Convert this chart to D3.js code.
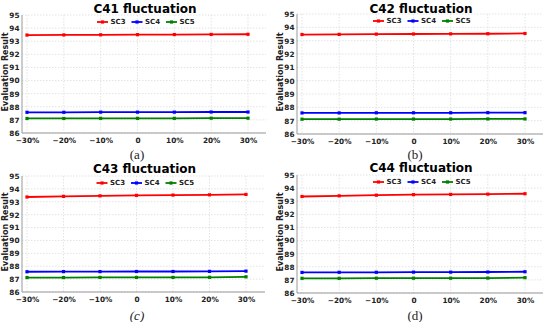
<!DOCTYPE html>
<html>
<head>
<meta charset="utf-8">
<script src="https://cdn.jsdelivr.net/npm/d3@7"></script>
<style>
  body { margin: 0; background: #fff; }
  svg { display: block; }
</style>
</head>
<body>
<div id="chart"></div>
<script>
// Sensitivity of evaluation result to +/-30% fluctuation of C41..C44

const xValues = [-30, -20, -10, 0, 10, 20, 30];
const xTickLabels = ['\u221230%', '\u221220%', '\u221210%', '0', '10%', '20%', '30%'];
const yTicks = [86, 87, 88, 89, 90, 91, 92, 93, 94, 95];
const seriesNames = ['SC3', 'SC4', 'SC5'];
const seriesColors = ['#ff0000', '#0000ff', '#008000'];

const c41SC3 = [93.47, 93.48, 93.49, 93.50, 93.51, 93.52, 93.53];
const c41SC4 = [87.58, 87.58, 87.59, 87.59, 87.59, 87.60, 87.60];
const c41SC5 = [87.11, 87.11, 87.12, 87.12, 87.12, 87.13, 87.13];

const c42SC3 = [93.46, 93.47, 93.49, 93.50, 93.51, 93.52, 93.54];
const c42SC4 = [87.58, 87.58, 87.59, 87.59, 87.59, 87.60, 87.60];
const c42SC5 = [87.11, 87.11, 87.12, 87.12, 87.12, 87.13, 87.13];

const c43SC3 = [93.37, 93.42, 93.46, 93.50, 93.52, 93.54, 93.57];
const c43SC4 = [87.57, 87.58, 87.58, 87.59, 87.59, 87.60, 87.62];
const c43SC5 = [87.12, 87.12, 87.13, 87.13, 87.13, 87.14, 87.18];

const c44SC3 = [93.36, 93.41, 93.46, 93.50, 93.52, 93.54, 93.57];
const c44SC4 = [87.57, 87.58, 87.58, 87.59, 87.59, 87.60, 87.62];
const c44SC5 = [87.12, 87.12, 87.13, 87.13, 87.13, 87.14, 87.17];

const titles = ['C41 fluctuation', 'C42 fluctuation', 'C43 fluctuation', 'C44 fluctuation'];
const captions = ['(a)', '(b)', '(c)', '(d)'];

// layout of each panel in page pixels
const PANELS = [
  { spine: 22, first: 27, last: 248, right: 266, top: 15, bottom: 133, titleY: 9, capX: 137, capY: 154, italic: false },
  { spine: 297, first: 302, last: 525, right: 543, top: 14, bottom: 134, titleY: 9, capX: 415, capY: 154, italic: false },
  { spine: 22, first: 27, last: 246, right: 265, top: 176, bottom: 292, titleY: 169, capX: 137, capY: 315, italic: true },
  { spine: 297, first: 302, last: 525, right: 543, top: 175, bottom: 293, titleY: 168, capX: 415, capY: 315, italic: false },
];

const panelData = [
  [c41SC3, c41SC4, c41SC5],
  [c42SC3, c42SC4, c42SC5],
  [c43SC3, c43SC4, c43SC5],
  [c44SC3, c44SC4, c44SC5],
];

const svg = d3.select('#chart')
  .append('svg')
  .attr('width', 550)
  .attr('height', 322);

function drawPanel(i) {
  const p = PANELS[i];
  const g = svg.append('g');

  const x = d3.scaleLinear().domain([-30, 30]).range([p.first, p.last]);
  const y = d3.scaleLinear().domain([86, 95]).range([p.bottom, p.top]);

  // grid
  g.selectAll('.hgrid')
    .data(yTicks)
    .join('line')
    .attr('x1', p.spine).attr('x2', p.right)
    .attr('y1', d => y(d)).attr('y2', d => y(d))
    .attr('stroke', '#dcdcdc')
    .attr('stroke-width', 0.8)
    .attr('stroke-dasharray', '1.5,1.5');

  g.selectAll('.vgrid')
    .data(xValues)
    .join('line')
    .attr('x1', d => x(d)).attr('x2', d => x(d))
    .attr('y1', p.top).attr('y2', p.bottom)
    .attr('stroke', '#dcdcdc')
    .attr('stroke-width', 0.8)
    .attr('stroke-dasharray', '1.5,1.5');

  // axes
  const yAxis = d3.axisLeft(y).tickValues(yTicks).tickSize(0).tickPadding(2.5);
  const xAxis = d3.axisBottom(x).tickValues(xValues).tickSize(0).tickPadding(5)
    .tickFormat((d, k) => xTickLabels[k]);

  const ya = g.append('g').attr('transform', `translate(${p.spine},0)`).call(yAxis);
  ya.select('.domain').remove();
  const xa = g.append('g').attr('transform', `translate(0,${p.bottom})`).call(xAxis);
  xa.select('.domain').remove();

  g.selectAll('.tick text')
    .attr('font-family', 'DejaVu Sans')
    .attr('font-weight', 'bold')
    .attr('font-size', 7.3)
    .attr('fill', '#222');

  // spines
  g.append('line')
    .attr('x1', p.spine).attr('x2', p.spine)
    .attr('y1', p.top).attr('y2', p.bottom)
    .attr('stroke', '#999').attr('stroke-width', 1);
  g.append('line')
    .attr('x1', p.spine).attr('x2', p.right)
    .attr('y1', p.bottom).attr('y2', p.bottom)
    .attr('stroke', '#999').attr('stroke-width', 1);

  // series
  const line = d3.line().x((d, k) => x(xValues[k])).y(d => y(d));
  panelData[i].forEach((vals, s) => {
    g.append('path')
      .datum(vals)
      .attr('d', line)
      .attr('fill', 'none')
      .attr('stroke', seriesColors[s])
      .attr('stroke-width', 1.8);
    g.selectAll(null)
      .data(vals)
      .join('rect')
      .attr('x', (d, k) => x(xValues[k]) - 1.6)
      .attr('y', d => y(d) - 1.6)
      .attr('width', 3.2).attr('height', 3.2)
      .attr('fill', seriesColors[s]);
  });

  // title
  const cx = (p.spine + p.right) / 2;
  g.append('text')
    .attr('x', cx + 1)
    .attr('y', p.titleY)
    .attr('dy', '0.35em')
    .attr('text-anchor', 'middle')
    .attr('font-family', 'DejaVu Sans')
    .attr('font-weight', 'bold')
    .attr('font-size', 12)
    .attr('fill', '#000')
    .text(titles[i]);

  // legend
  const legY = p.top + 7;
  const legX = cx - 47;
  seriesNames.forEach((name, s) => {
    const lx = legX + s * 34.5;
    g.append('line')
      .attr('x1', lx).attr('x2', lx + 11)
      .attr('y1', legY).attr('y2', legY)
      .attr('stroke', seriesColors[s]).attr('stroke-width', 1.8);
    g.append('rect')
      .attr('x', lx + 3.9).attr('y', legY - 1.6)
      .attr('width', 3.2).attr('height', 3.2)
      .attr('fill', seriesColors[s]);
    g.append('text')
      .attr('x', lx + 13.5)
      .attr('y', legY)
      .attr('dy', '0.35em')
      .attr('font-family', 'DejaVu Sans')
      .attr('font-weight', 'bold')
      .attr('font-size', 7)
      .attr('fill', '#222')
      .text(name);
  });

  // y label
  g.append('text')
    .attr('transform', `translate(${p.spine - 17},${(p.top + p.bottom) / 2 - 2}) rotate(-90)`)
    .attr('text-anchor', 'middle')
    .attr('dy', '0.35em')
    .attr('font-family', 'DejaVu Sans')
    .attr('font-weight', 'bold')
    .attr('font-size', 8)
    .attr('fill', '#222')
    .text('Evaluation Result');

  // caption
  g.append('text')
    .attr('x', p.capX)
    .attr('y', p.capY)
    .attr('dy', '0.35em')
    .attr('text-anchor', 'middle')
    .attr('font-family', 'Liberation Serif')
    .attr('font-style', p.italic ? 'italic' : 'normal')
    .attr('font-size', 13)
    .attr('fill', '#222')
    .text(captions[i]);
}

PANELS.forEach((p, i) => drawPanel(i));
</script>
</body>
</html>
